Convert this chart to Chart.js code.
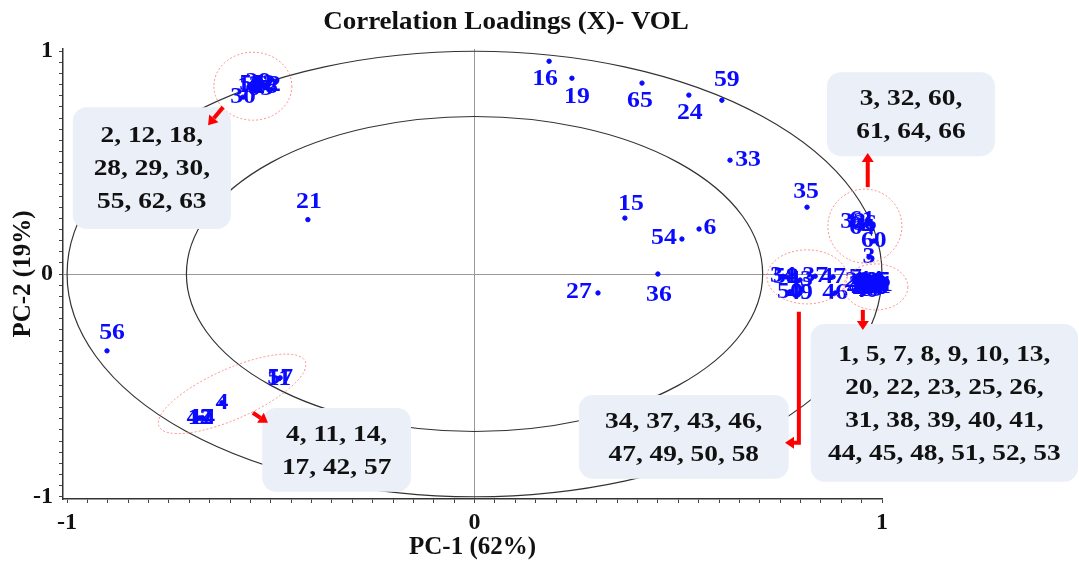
<!DOCTYPE html>
<html>
<head>
<meta charset="utf-8">
<title>Correlation Loadings (X)- VOL</title>
<script src="https://cdn.jsdelivr.net/npm/chart.js@4.4.1/dist/chart.umd.min.js"></script>
<style>
  html, body { margin: 0; padding: 0; background: #fff; }
  #wrap { width: 1079px; height: 565px; }
</style>
</head>
<body>
<div id="wrap"><canvas id="chart" width="1079" height="565"></canvas></div>
<script>
// variable numbers and their loadings on PC-1 / PC-2
const varIds = [
   1,  2,  3,  4,  5,  6,  7,  8,  9, 10, 11, 12, 13, 14, 15, 16, 17, 18, 19, 20, 21, 22,
  23, 24, 25, 26, 27, 28, 29, 30, 31, 32, 33, 34, 35, 36, 37, 38, 39, 40, 41, 42, 43, 44,
  45, 46, 47, 48, 49, 50, 51, 52, 53, 54, 55, 56, 57, 58, 59, 60, 61, 62, 63, 64, 65, 66
];
const pc1 = [
   0.955, -0.539,  0.968, -0.620,  0.975,  0.551,  0.935,  0.965,  0.985,  0.960, -0.480,
  -0.521,  0.970, -0.668,  0.369,  0.183, -0.672, -0.551,  0.239,  0.940, -0.409,  0.955,
   0.980,  0.526,  0.990,  0.965,  0.303, -0.514, -0.531, -0.568,  0.950,  0.929,  0.627,
   0.757,  0.816,  0.450,  0.836,  0.975,  0.985,  0.960,  0.995, -0.675,  0.799,  0.970,
   0.945,  0.885,  0.880,  0.980,  0.799,  0.774,  0.990,  0.955,  0.975,  0.509, -0.546,
  -0.902, -0.477,  0.764,  0.607,  0.980,  0.951, -0.507, -0.526,  0.951,  0.411,  0.955
];
const pc2 = [
  -0.040,  0.848,  0.076, -0.578, -0.050,  0.202, -0.020, -0.060, -0.040, -0.030, -0.470,
   0.852, -0.070, -0.645,  0.251,  0.955, -0.648,  0.843,  0.879, -0.030,  0.244, -0.060,
  -0.055,  0.803, -0.030, -0.045, -0.085,  0.839,  0.861,  0.794, -0.050,  0.233,  0.511,
  -0.010,  0.300,  0.000, -0.010, -0.035, -0.065, -0.075, -0.050, -0.646, -0.027, -0.025,
  -0.065, -0.085, -0.013, -0.045, -0.085, -0.080, -0.060, -0.045, -0.060,  0.157,  0.852,
  -0.345, -0.466, -0.013,  0.780,  0.148,  0.242,  0.848,  0.830,  0.206,  0.857,  0.224
];

// groups of overlapping variables listed in the call-out boxes
const groupUpperLeft = [2, 12, 18, 28, 29, 30, 55, 62, 63];
const groupUpperRight = [3, 32, 60, 61, 64, 66];
const groupLowerLeft = [4, 11, 14, 17, 42, 57];
const groupMiddle = [34, 37, 43, 46, 47, 49, 50, 58];
const groupRight = [1, 5, 7, 8, 9, 10, 13, 20, 22, 23, 25, 26, 31, 38, 39, 40, 41, 44, 45, 48, 51, 52, 53];

const explained = [62, 19];
const innerRadius = Math.sqrt(0.5);

const serif = '"Liberation Serif", "Times New Roman", Times, serif';
const blue = '#0a0aff';

// where each point label sits relative to its dot (px); others are centred on the dot
const labelShift = {
  16: [-4, 18], 19: [5, 19], 65: [-2, 18], 24: [1, 18], 59: [5, -20], 33: [18, 0],
  35: [-1, -15], 15: [6, -14], 54: [-18, -1], 6: [11, -1], 27: [-19, -1], 36: [1, 21],
  21: [1, -18], 56: [5, -18]
};

// call-out boxes: corners in loading units, items per text row
const callouts = [
  { ids: groupUpperLeft, rows: [3, 3, 3], box: [-0.986, 0.749, -0.598, 0.202] },
  { ids: groupUpperRight, rows: [3, 3], box: [0.865, 0.906, 1.277, 0.529] },
  { ids: groupLowerLeft, rows: [3, 3], box: [-0.521, -0.601, -0.156, -0.978] },
  { ids: groupMiddle, rows: [4, 4], box: [0.256, -0.543, 0.771, -0.919] },
  { ids: groupRight, rows: [7, 5, 5, 6], box: [0.825, -0.224, 1.481, -0.933] }
];

// dotted rings around the crowded spots: centre in loading units, radii in px
const rings = [
  { x: -0.544, y: 0.843, rx: 39, ry: 34, rot: 0 },
  { x: 0.958, y: 0.215, rx: 37, ry: 37, rot: 0 },
  { x: 0.816, y: -0.013, rx: 40, ry: 27, rot: 0 },
  { x: 0.985, y: -0.058, rx: 32, ry: 23, rot: 0 },
  { x: -0.595, y: -0.538, rx: 80, ry: 25, rot: -24 }
];

// red pointers from each ring to its box
const pointers = [
  [[-0.617, 0.749], [-0.654, 0.668]],
  [[0.965, 0.390], [0.965, 0.543]],
  [[-0.544, -0.623], [-0.507, -0.668]],
  [[0.796, -0.170], [0.796, -0.758], [0.762, -0.758]],
  [[0.953, -0.161], [0.953, -0.251]]
];

function toPx(chart, x, y) {
  return [chart.scales.x.getPixelForValue(x), chart.scales.y.getPixelForValue(y)];
}

function wideText(ctx, text, x, y, sx) {
  ctx.save();
  ctx.translate(x, y);
  ctx.scale(sx, 1);
  ctx.fillText(text, 0, 0);
  ctx.restore();
}

const loadingCircles = {
  id: 'loadingCircles',
  beforeDatasetsDraw(chart) {
    const ctx = chart.ctx;
    const [cx, cy] = toPx(chart, 0, 0);
    ctx.save();
    ctx.strokeStyle = '#333';
    ctx.lineWidth = 1.2;
    [1, innerRadius].forEach(r => {
      const rx = chart.scales.x.getPixelForValue(r) - cx;
      const ry = cy - chart.scales.y.getPixelForValue(r);
      ctx.beginPath();
      ctx.ellipse(cx, cy, rx, ry, 0, 0, Math.PI * 2);
      ctx.stroke();
    });
    ctx.restore();
  }
};

const pointLabels = {
  id: 'pointLabels',
  afterDatasetsDraw(chart) {
    const ctx = chart.ctx;
    const meta = chart.getDatasetMeta(0);
    ctx.save();
    ctx.font = 'bold 23px ' + serif;
    ctx.fillStyle = blue;
    ctx.textAlign = 'center';
    ctx.textBaseline = 'middle';
    meta.data.forEach((pt, i) => {
      const shift = labelShift[varIds[i]] || [0, 0];
      wideText(ctx, String(varIds[i]), pt.x + shift[0], pt.y + shift[1], 1.12);
    });
    ctx.restore();
  }
};

const callOuts = {
  id: 'callOuts',
  afterDraw(chart) {
    const ctx = chart.ctx;
    ctx.save();

    // dotted rings
    ctx.strokeStyle = '#ff8c8c';
    ctx.lineWidth = 1;
    ctx.setLineDash([2, 2]);
    rings.forEach(r => {
      const [x, y] = toPx(chart, r.x, r.y);
      ctx.beginPath();
      ctx.ellipse(x, y, r.rx, r.ry, r.rot * Math.PI / 180, 0, Math.PI * 2);
      ctx.stroke();
    });
    ctx.setLineDash([]);

    // boxes with the variable lists
    ctx.font = 'bold 24px ' + serif;
    ctx.textAlign = 'center';
    ctx.textBaseline = 'middle';
    callouts.forEach(c => {
      const [x1, y1] = toPx(chart, c.box[0], c.box[1]);
      const [x2, y2] = toPx(chart, c.box[2], c.box[3]);
      ctx.fillStyle = '#eaeff8';
      ctx.beginPath();
      ctx.roundRect(x1, y1, x2 - x1, y2 - y1, 14);
      ctx.fill();

      const lines = [];
      let k = 0;
      c.rows.forEach((n, r) => {
        const part = c.ids.slice(k, k + n).join(', ');
        k += n;
        lines.push(r < c.rows.length - 1 ? part + ',' : part);
      });
      const lh = 33;
      const midX = (x1 + x2) / 2;
      const top = (y1 + y2) / 2 - (lines.length - 1) * lh / 2;
      ctx.fillStyle = '#111';
      lines.forEach((t, r) => wideText(ctx, t, midX, top + r * lh + 1, 1.14));
    });

    // arrows
    ctx.strokeStyle = '#ff0000';
    ctx.fillStyle = '#ff0000';
    ctx.lineWidth = 4;
    ctx.lineJoin = 'miter';
    pointers.forEach(p => {
      const pts = p.map(v => toPx(chart, v[0], v[1]));
      const a = pts[pts.length - 2];
      const b = pts[pts.length - 1];
      const ang = Math.atan2(b[1] - a[1], b[0] - a[0]);
      const head = 9;
      const stop = [b[0] - Math.cos(ang) * head, b[1] - Math.sin(ang) * head];
      ctx.beginPath();
      ctx.moveTo(pts[0][0], pts[0][1]);
      for (let i = 1; i < pts.length - 1; i++) ctx.lineTo(pts[i][0], pts[i][1]);
      ctx.lineTo(stop[0], stop[1]);
      ctx.stroke();
      ctx.beginPath();
      ctx.moveTo(b[0], b[1]);
      ctx.lineTo(stop[0] + Math.cos(ang + Math.PI / 2) * 6, stop[1] + Math.sin(ang + Math.PI / 2) * 6);
      ctx.lineTo(stop[0] + Math.cos(ang - Math.PI / 2) * 6, stop[1] + Math.sin(ang - Math.PI / 2) * 6);
      ctx.closePath();
      ctx.fill();
    });

    // chart title
    ctx.fillStyle = '#111';
    ctx.font = 'bold 25px ' + serif;
    wideText(ctx, 'Correlation Loadings (X)- VOL', 506, 23, 1.08);
    ctx.restore();
  }
};

// minor tick every 0.05, labels only at -1, 0 and 1
function fixedTicks(scale) {
  const ticks = [];
  for (let i = -20; i <= 20; i++) ticks.push({ value: i / 20 });
  scale.ticks = ticks;
}
function tickText(v) {
  if (Math.abs(v) < 1e-9) return '0';
  if (Math.abs(v - 1) < 1e-9) return '1';
  if (Math.abs(v + 1) < 1e-9) return '-1';
  return '';
}
function zeroLine(ctx) {
  return ctx.tick && Math.abs(ctx.tick.value) < 1e-9 ? '#999' : 'rgba(0,0,0,0)';
}

new Chart(document.getElementById('chart'), {
  type: 'scatter',
  data: {
    datasets: [{
      data: varIds.map((id, i) => ({ x: pc1[i], y: pc2[i] })),
      backgroundColor: blue,
      borderColor: blue,
      pointRadius: 2.2,
      pointHoverRadius: 2.2
    }]
  },
  options: {
    responsive: false,
    animation: false,
    devicePixelRatio: 1,
    layout: { padding: { top: 49, right: 197, left: 0, bottom: 0 } },
    plugins: {
      legend: { display: false },
      tooltip: { enabled: false }
    },
    scales: {
      x: {
        type: 'linear',
        min: -1.01,
        max: 1,
        afterBuildTicks: fixedTicks,
        afterFit: s => { s.height = 66; },
        border: { display: true, color: '#333', width: 1.5 },
        grid: { drawOnChartArea: true, color: zeroLine, tickColor: '#444', tickLength: 4, lineWidth: 1 },
        ticks: {
          autoSkip: false, maxRotation: 0, padding: 5,
          color: '#111', font: { family: serif, size: 24, weight: 'bold' },
          callback: tickText
        },
        title: {
          display: true,
          text: 'PC-1 (' + explained[0] + '%)',
          color: '#111',
          font: { family: serif, size: 25, weight: 'bold' },
          padding: { top: 0, bottom: 2 }
        }
      },
      y: {
        type: 'linear',
        min: -1.01,
        max: 1.01,
        afterBuildTicks: fixedTicks,
        afterFit: s => { s.width = 63; },
        border: { display: true, color: '#333', width: 1.5 },
        grid: { drawOnChartArea: true, color: zeroLine, tickColor: '#444', tickLength: 4, lineWidth: 1 },
        ticks: {
          autoSkip: false, padding: 6,
          color: '#111', font: { family: serif, size: 24, weight: 'bold' },
          callback: tickText
        },
        title: {
          display: true,
          text: 'PC-2 (' + explained[1] + '%)',
          color: '#111',
          font: { family: serif, size: 25, weight: 'bold' },
          padding: { top: 9, bottom: 0 }
        }
      }
    }
  },
  plugins: [loadingCircles, pointLabels, callOuts]
});
</script>
</body>
</html>
